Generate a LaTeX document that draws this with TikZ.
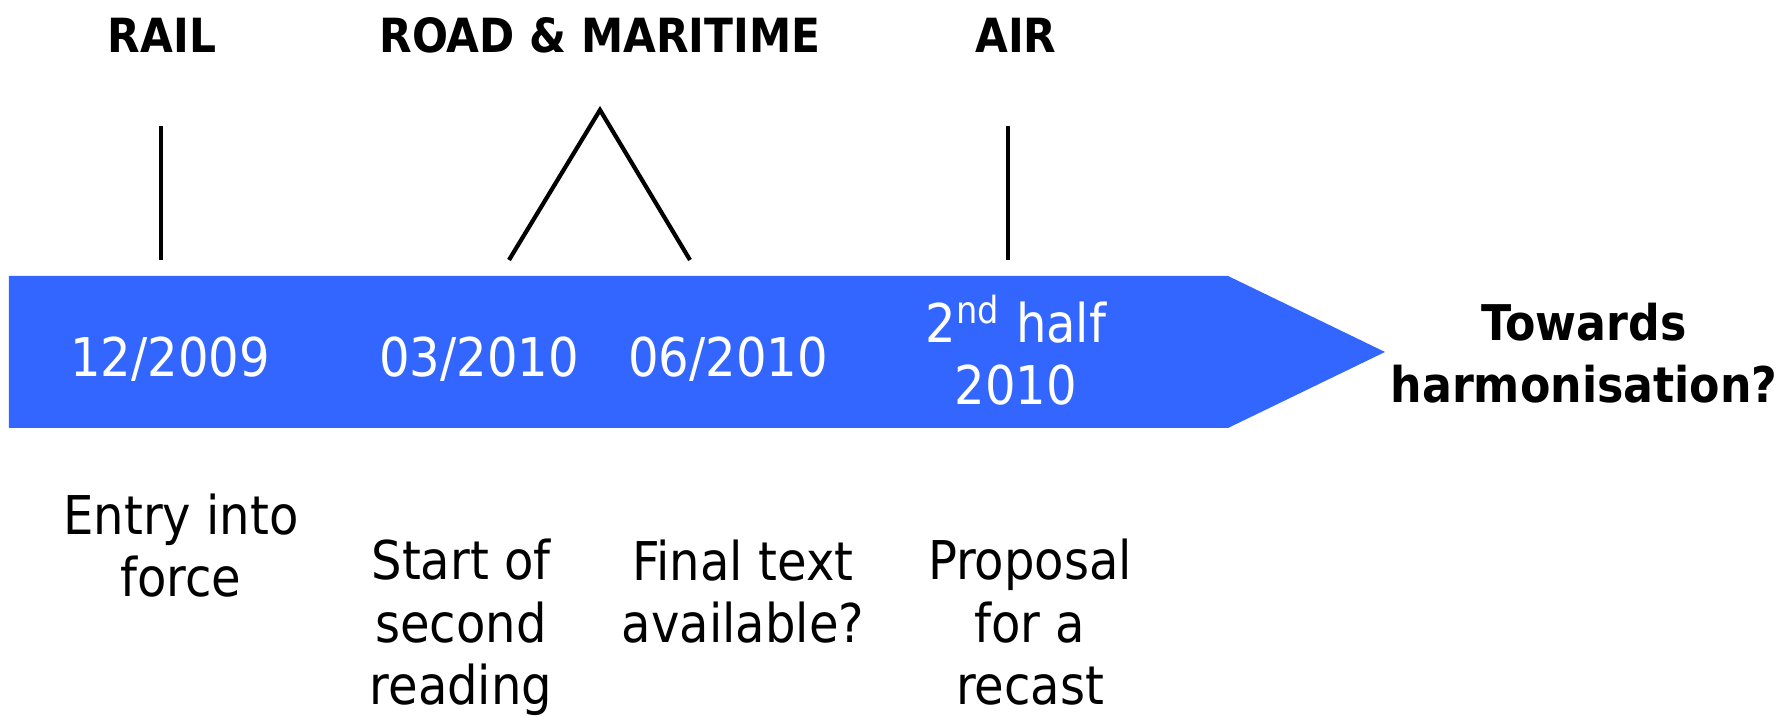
\documentclass[tikz,border=0pt]{standalone}
\usepackage{fontspec}
\setmainfont{DejaVu Sans Condensed}
\usetikzlibrary{calc}
\definecolor{zeitblau}{RGB}{51,102,255}

\begin{document}
\begin{tikzpicture}[font=\fontsize{15.2}{17.9}\selectfont,
    kopf/.style={anchor=base, inner sep=0pt, font=\fontsize{13.4}{15}\selectfont\bfseries},
    datum/.style={anchor=base, inner sep=0pt, align=center, white},
    beschr/.style={anchor=base, inner sep=0pt, align=center},
    strich/.style={line width=1.2pt, black}]

    \useasboundingbox (0,0) rectangle (17.9,7.17);

    % timeline arrow
    \fill[zeitblau] (0.09,2.89) -- (12.28,2.89) -- (13.85,3.65) -- (12.28,4.41) -- (0.09,4.41) -- cycle;

    \node[kopf] (rail) at (1.62,6.645) {RAIL};
    \node[kopf] (roadmar) at (6.00,6.645) {ROAD \& MARITIME};
    \node[kopf] (air) at (10.16,6.645) {AIR};

    \coordinate (railoben) at (1.61,5.91);
    \coordinate (railunten) at (1.61,4.57);
    \coordinate (spitze) at (6.00,6.07);
    \coordinate (roadunten) at (5.09,4.57);
    \coordinate (marunten) at (6.90,4.57);
    \coordinate (airoben) at (10.08,5.91);
    \coordinate (airunten) at (10.08,4.57);

    \draw[strich] (railoben) -- (railunten);
    \draw[strich] (roadunten) -- (spitze) -- (marunten);
    \draw[strich] (airoben) -- (airunten);

    % base anchor sits on the last line
    \node[datum] (d1) at (1.70,3.40) {12/2009};
    \node[datum] (d2) at (4.79,3.40) {03/2010};
    \node[datum] (d3) at (7.28,3.40) {06/2010};
    \node[datum] (d4) at (10.16,3.12) {2\textsuperscript{nd} half\\2010};

    \node[beschr, font=\fontsize{14.0}{17.9}\selectfont\bfseries] (ziel) at (15.84,3.14) {Towards\\harmonisation?};

    \node[beschr] (t1) at (1.81,1.20) {Entry into\\force};
    \node[beschr] (t2) at (4.61,0.12) {Start of\\second\\reading};
    \node[beschr] (t3) at (7.43,0.74) {Final text\\available?};
    \node[beschr] (t4) at (10.30,0.12) {Proposal\\for a\\recast};

\end{tikzpicture}
\end{document}
